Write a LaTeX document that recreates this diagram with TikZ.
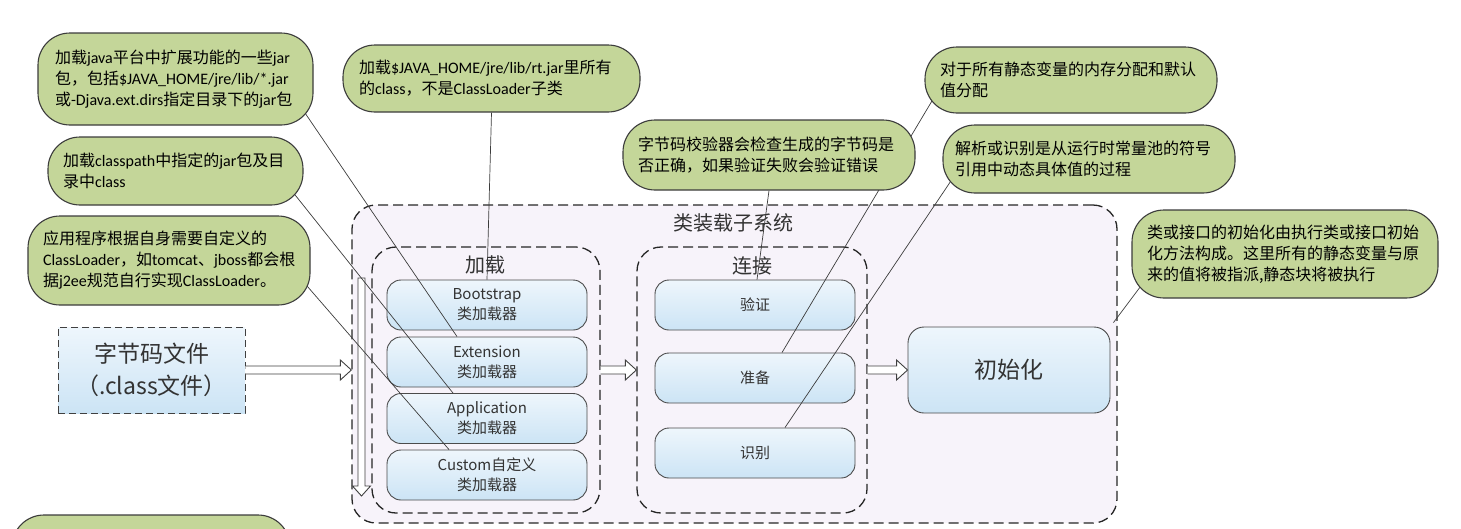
\documentclass[tikz,border=0pt]{standalone}
\usepackage{fontspec}
\setmainfont{Noto Sans CJK SC}
\newfontfamily\enfont{Carlito}
\newcommand\en[1]{{\enfont #1}}
\usetikzlibrary{calc}

\pgfdeclarelayer{front}
\pgfsetlayers{main,front}

\definecolor{bubblegreen}{RGB}{196,214,153}
\definecolor{bubbleline}{RGB}{60,60,60}
\definecolor{sysfill}{RGB}{247,243,250}
\definecolor{boxtop}{RGB}{238,246,252}
\definecolor{boxbot}{RGB}{204,228,245}
\definecolor{boxline}{RGB}{75,75,75}
\definecolor{calloutline}{RGB}{60,60,60}

\tikzset{
  bubble/.style={draw=bubbleline, line width=1.1pt, fill=bubblegreen, rounded corners=32pt,
    inner sep=0pt, align=left, font=\fontsize{16}{21}\selectfont},
  ldbox/.style={draw=boxline, line width=0.9pt, top color=boxtop, bottom color=boxbot,
    rounded corners=14pt, minimum width=200pt, minimum height=50pt, align=center,
    text=black!80, font=\fontsize{15}{20}\selectfont},
  codebox/.style={draw=black!75, line width=0.9pt, dash pattern=on 7pt off 4pt,
    top color=boxtop, bottom color=boxbot, minimum width=187pt, minimum height=86pt,
    align=center, text=black!80, font=\fontsize{23}{32}\selectfont},
  group/.style={draw=black!85, line width=1.3pt, dash pattern=on 10pt off 5pt,
    fill=sysfill, rounded corners=24pt},
  grouptitle/.style={text=black!80, font=\fontsize{20}{24}\selectfont},
  callout/.style={draw=calloutline, line width=0.7pt},
  harrow/.style={draw=black!75, line width=0.9pt, fill=white},
}

% hollow block arrow, horizontal, y taken from the start point
\newcommand\hollowarrow[2]{%
  \draw[harrow] let \p1=(#1), \p2=(#2) in
    (\x1,\y1+4pt) -- (\x2-11pt,\y1+4pt) -- (\x2-11pt,\y1+10pt) -- (\x2,\y1)
    -- (\x2-11pt,\y1-10pt) -- (\x2-11pt,\y1-4pt) -- (\x1,\y1-4pt);}

\begin{document}
\begin{tikzpicture}[x=1pt, y=-1pt]
\useasboundingbox (0,0) rectangle (1461,528);

% class loading subsystem
\node[group, minimum width=765pt, minimum height=318pt] (sys) at (734.5,364) {};
\node[grouptitle] (systitle) at (733,223) {类装载子系统};

\node[group, minimum width=228pt, minimum height=266pt] (load) at (486,380) {};
\node[grouptitle] (loadtitle) at (485,265) {加载};
\node[group, minimum width=230pt, minimum height=266pt] (link) at (752,380) {};
\node[grouptitle] (linktitle) at (752,266) {连接};

% loaders
\node[ldbox] (boot) at (487,305) {Bootstrap\\类加载器};
\node[ldbox] (ext) at (487,362) {Extension\\类加载器};
\node[ldbox] (app) at (487,418.5) {Application\\类加载器};
\node[ldbox] (cus) at (487,475) {Custom自定义\\类加载器};

% linking
\node[ldbox] (verify) at (755,305) {验证};
\node[ldbox] (prep) at (755,378) {准备};
\node[ldbox] (res) at (755,453) {识别};

\node[ldbox, minimum width=202pt, minimum height=86pt, rounded corners=16pt,
  font=\fontsize{23}{28}\selectfont] (init) at (1009,370) {初始化};

\node[codebox] (code) at (151.5,370) {字节码文件\\（.class文件）};

% arrows
\hollowarrow{code.east}{sys.west}
\hollowarrow{load.east |- init.west}{link.west}
\hollowarrow{link.east |- init.west}{init.west}

\coordinate (vtop) at (361.5,278);
\coordinate (vbot) at (361.5,496);
\draw[harrow] let \p1=(vtop), \p2=(vbot) in
  (\x1-3.5pt,\y1) -- (\x1-3.5pt,\y2+10pt) -- (\x1-9pt,\y2+10pt) -- (\x1,\y2)
  -- (\x1+9pt,\y2+10pt) -- (\x1+3.5pt,\y2+10pt) -- (\x1+3.5pt,\y1) -- cycle;

% notes
\begin{pgfonlayer}{front}
\node[bubble, minimum width=275pt, minimum height=92pt, text width=241pt] (bext) at (175.5,79)
  {加载\en{java}平台中扩展功能的一些\en{jar}\\包，包括\en{\$JAVA\_HOME/jre/lib/*.jar}\\或\en{-Djava.ext.dirs}指定目录下的\en{jar}包};
\node[bubble, minimum width=255pt, minimum height=68pt, text width=225pt] (bapp) at (175.5,171)
  {加载\en{classpath}中指定的\en{jar}包及目\\录中\en{class}};
\node[bubble, minimum width=282pt, minimum height=89pt, text width=252pt] (bcus) at (169,260.5)
  {应用程序根据自身需要自定义的\\\en{ClassLoader}，如\en{tomcat}、\en{jboss}都会根\\据\en{j2ee}规范自行实现\en{ClassLoader}。};
\node[bubble, minimum width=297pt, minimum height=67pt, text width=265pt] (bboot) at (491.5,78.5)
  {加载\en{\$JAVA\_HOME/jre/lib/rt.jar}里所有\\的\en{class}，不是\en{ClassLoader}子类};
\node[bubble, minimum width=292pt, minimum height=70pt, text width=262pt] (bver) at (769,155)
  {字节码校验器会检查生成的字节码是\\否正确，如果验证失败会验证错误};
\node[bubble, minimum width=292pt, minimum height=66pt, text width=262pt] (bprep) at (1071,80)
  {对于所有静态变量的内存分配和默认\\值分配};
\node[bubble, minimum width=292pt, minimum height=68pt, text width=268pt] (bres) at (1089,159)
  {解析或识别是从运行时常量池的符号\\引用中动态具体值的过程};
\node[bubble, minimum width=306pt, minimum height=88pt, text width=276pt] (binit) at (1285,254)
  {类或接口的初始化由执行类或接口初始\\化方法构成。这里所有的静态变量与原\\来的值将被指派,静态块将被执行};
\node[bubble, minimum width=278pt, minimum height=90pt] (bnext) at (151,560) {};
\end{pgfonlayer}

\draw[callout, shorten <=-20pt] (bext.south east) -- ([xshift=-30pt]ext.north);
\draw[callout, shorten <=-20pt] (bapp.south east) -- ([xshift=-34pt]app.north);
\draw[callout, shorten <=-20pt] ([yshift=15.5pt]bcus.south east) -- ([xshift=-38pt]cus.north);
\draw[callout] (bboot.south) -- (boot.north);
\draw[callout] (bver.south) -- ([xshift=2pt]verify.north);
\draw[callout, shorten <=-20pt] (bprep.south west) -- ([xshift=27pt]prep.north);
\draw[callout, shorten <=-20pt] (bres.south west) -- ([xshift=30pt]res.north);
\draw[callout, shorten <=-20pt, shorten >=5pt] (binit.south west) -- (init.north east);

\end{tikzpicture}
\end{document}
